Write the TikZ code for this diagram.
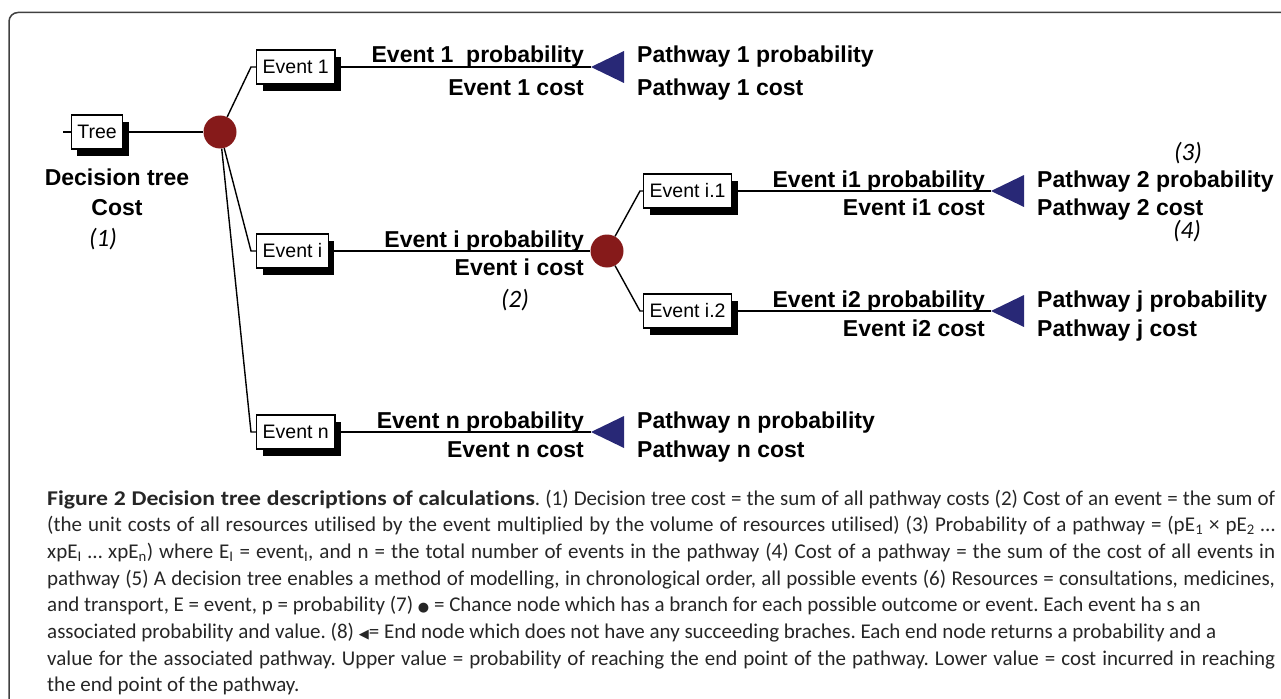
\documentclass[tikz,border=0pt]{standalone}
\usepackage{fontspec}
\setmainfont{Liberation Sans}
\newfontfamily\capfont[Ligatures=NoCommon]{Carlito}
\newfontfamily\capwide[Ligatures=NoCommon, FakeStretch=1.13]{Carlito}
\newfontfamily\symbfont{DejaVu Sans}
\usetikzlibrary{shadows}
\frenchspacing

\definecolor{chancered}{RGB}{134,26,26}
\definecolor{endblue}{RGB}{40,40,118}

\tikzset{
    eventbox/.style={draw=black, fill=white, line width=1.4pt, inner xsep=6pt, inner ysep=0pt,
        minimum height=34pt, anchor=west, font=\fontsize{19.5}{21}\selectfont,
        drop shadow={shadow xshift=6pt, shadow yshift=-7pt, opacity=1, fill=black}},
    chance/.style={circle, fill=chancered, minimum size=33pt, inner sep=0pt},
    lbl/.style={font=\bfseries\fontsize{23}{27}\selectfont, inner sep=0pt},
    num/.style={font=\capfont\itshape\fontsize{25}{28}\selectfont, inner sep=0pt},
    branch/.style={line width=1.4pt},
    stem/.style={line width=2.4pt},
    endnode/.style={fill=endblue},
    capline/.style={anchor=base west, inner sep=0pt, text=black!85,
        font=\capfont\fontsize{21}{26}\selectfont},
}

\begin{document}
\begin{tikzpicture}[x=1pt, y=-1pt]
    \useasboundingbox (0,0) rectangle (1281,698);
    \clip (0,0) rectangle (1281,698);

    % frame
    \draw[line width=1.5pt, black!75, rounded corners=9pt] (1300,12.5) -- (9,12.5) -- (9,720);

    % boxes and chance nodes
    \node[eventbox, anchor=center] (Tree) at (97,132) {Tree};
    \node[chance] (C_1) at (220,132) {};
    \node[eventbox] (E_1) at (256,67) {Event 1};
    \node[eventbox] (E_i) at (256,251) {Event i};
    \node[eventbox] (E_n) at (256,432) {Event n};
    \node[chance] (C_2) at (607,251) {};
    \node[eventbox] (E_i1) at (643,191) {Event i.1};
    \node[eventbox] (E_i2) at (643,311) {Event i.2};

    % end nodes
    \coordinate (T_1) at (591,67);
    \coordinate (T_2) at (991,191);
    \coordinate (T_j) at (991,311);
    \coordinate (T_n) at (591,432);
    \foreach \t in {T_1, T_2, T_j, T_n}
        \fill[endnode] (\t) -- ++(33,-16) -- ++(0,32) -- cycle;

    % connectors
    \draw[line width=1.2pt] (Tree.west) -- ++(-8,0);
    \draw[stem] (Tree.east) -- (C_1);
    \draw[branch] (C_1) -- ([xshift=-5pt]E_1.west) -- (E_1.west);
    \draw[branch] (C_1) -- ([xshift=-5pt]E_i.west) -- (E_i.west);
    \draw[branch] (C_1) -- ([xshift=-5pt]E_n.west) -- (E_n.west);
    \draw[branch] (C_2) -- ([xshift=-3pt]E_i1.west) -- (E_i1.west);
    \draw[branch] (C_2) -- ([xshift=-3pt]E_i2.west) -- (E_i2.west);
    \draw[stem] (E_1.east) -- (T_1);
    \draw[stem] (E_i.east) -- (C_2);
    \draw[stem] (E_n.east) -- (T_n);
    \draw[stem] (E_i1.east) -- (T_2);
    \draw[stem] (E_i2.east) -- (T_j);

    % labels
    \begin{scope}[every node/.style={lbl, anchor=base east}]
        \node (P_1) at (584,63) {Event 1\ \ probability};
        \node (K_1) at (584,96) {Event 1 cost};
        \node (P_i) at (584,247) {Event i probability};
        \node (K_i) at (584,275) {Event i cost};
        \node (P_n) at (584,428) {Event n probability};
        \node (K_n) at (584,457) {Event n cost};
        \node (P_i1) at (985,187) {Event i1 probability};
        \node (K_i1) at (985,215) {Event i1 cost};
        \node (P_i2) at (985,307) {Event i2 probability};
        \node (K_i2) at (985,336) {Event i2 cost};
    \end{scope}
    \begin{scope}[every node/.style={lbl, anchor=base west}]
        \node (W_1) at (637,63) {Pathway 1 probability};
        \node (V_1) at (637,96) {Pathway 1 cost};
        \node (W_n) at (637,428) {Pathway n probability};
        \node (V_n) at (637,457) {Pathway n cost};
        \node (W_2) at (1037,187) {Pathway 2 probability};
        \node (V_2) at (1037,215) {Pathway 2 cost};
        \node (W_j) at (1037,307) {Pathway j probability};
        \node (V_j) at (1037,336) {Pathway j cost};
    \end{scope}
    \node[lbl, anchor=base] (D_1) at (117,185) {Decision tree};
    \node[lbl, anchor=base] (D_2) at (117,215) {Cost};

    \node[num] (N_1) at (103,239) {(1)};
    \node[num] (N_2) at (515,300) {(2)};
    \node[num] (N_3) at (1188,153) {(3)};
    \node[num] (N_4) at (1187,231) {(4)};

    % caption, one node per line
    \node[capline] (L_1) at (47,505) {\hbox to 1228pt{{\capwide\bfseries Figure 2 Decision tree descriptions of calculations}. (1) Decision tree cost = the sum of all pathway costs (2) Cost of an event = the sum of}};
    \node[capline] (L_2) at (47,531.7) {\hbox to 1228pt{(the unit costs of all resources utilised by the event multiplied by the volume of resources utilised) (3) Probability of a pathway = (pE\textsubscript{1} × pE\textsubscript{2} …}};
    \node[capline] (L_3) at (47,558.3) {\hbox to 1228pt{xpE\textsubscript{I} … xpE\textsubscript{n}) where E\textsubscript{I} = event\textsubscript{I}, and n = the total number of events in the pathway (4) Cost of a pathway = the sum of the cost of all events in}};
    \node[capline] (L_4) at (47,585) {\hbox to 1228pt{pathway (5) A decision tree enables a method of modelling, in chronological order, all possible events (6) Resources = consultations, medicines,}};
    \node[capline] (L_5) at (47,611.7) {and transport, E = event, p = probability (7) {\symbfont\fontsize{13}{13}\selectfont ●} = Chance node which has a branch for each possible outcome or event. Each event ha s an};
    \node[capline] (L_6) at (47,638.3) {associated probability and value. (8) {\symbfont\fontsize{13}{13}\selectfont ◀}= End node which does not have any succeeding braches. Each end node returns a probability and a};
    \node[capline] (L_7) at (47,665) {\hbox to 1228pt{value for the associated pathway. Upper value = probability of reaching the end point of the pathway. Lower value = cost incurred in reaching}};
    \node[capline] (L_8) at (47,691.7) {the end point of the pathway.};
\end{tikzpicture}
\end{document}
